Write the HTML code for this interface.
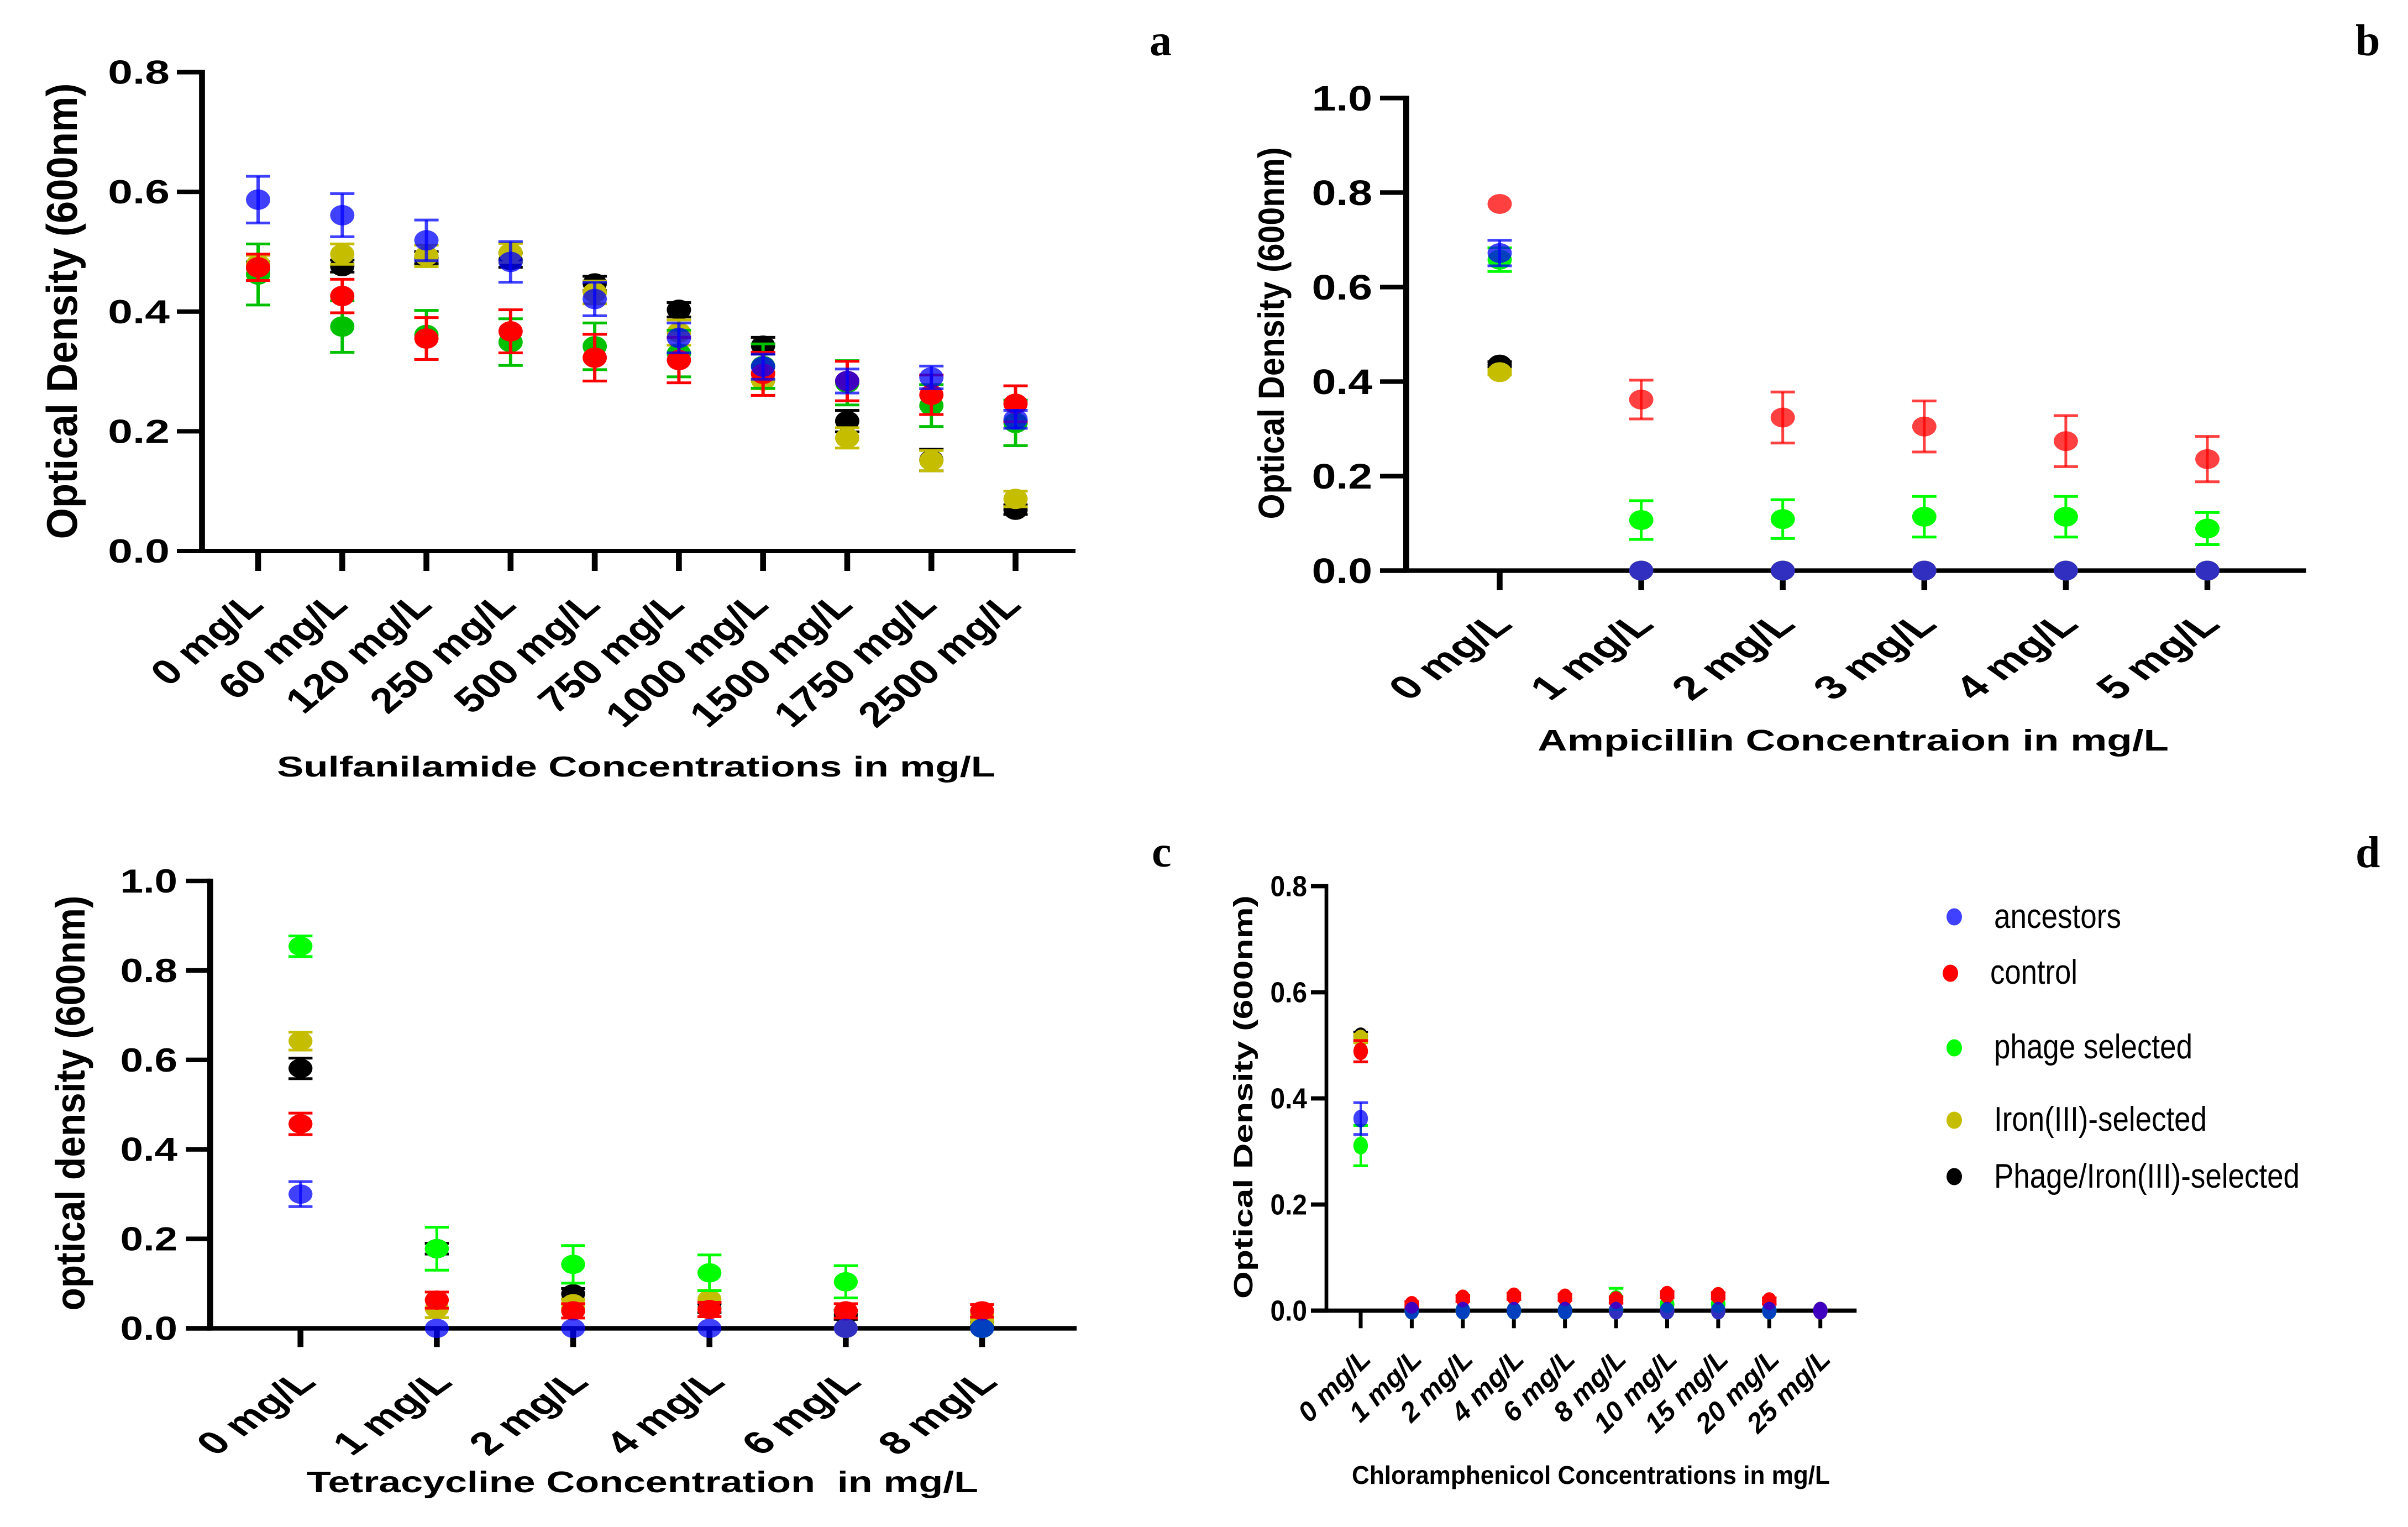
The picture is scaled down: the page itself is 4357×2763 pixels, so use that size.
<!DOCTYPE html>
<html lang="en">
<head>
<meta charset="utf-8">
<title>Optical density under antibiotic concentrations</title>
<style>
html,body{margin:0;padding:0;background:#fff;}
svg{display:block;}
text{font-family:"Liberation Sans",sans-serif;fill:#000;}
.title{font-weight:bold;}
.panel-letter{font-family:"Liberation Serif",serif;font-weight:bold;font-size:80px;}
.legend-label{font-size:62px;}
</style>
</head>
<body>
<svg id="figure" xmlns="http://www.w3.org/2000/svg" width="4357" height="2763" viewBox="0 0 4357 2763">
  <rect x="0" y="0" width="4357" height="2763" fill="#fff"/>

  <text class="panel-letter" x="2080" y="100">a</text>
  <text class="panel-letter" x="4262" y="100">b</text>
  <text class="panel-letter" x="2084" y="1568">c</text>
  <text class="panel-letter" x="4262" y="1569">d</text>

  <text class="title" font-size="78" text-anchor="middle" transform="translate(139,563) rotate(-90)" textLength="825" lengthAdjust="spacingAndGlyphs">Optical Density (600nm)</text>
  <text class="title" font-size="52" x="501" y="1405" textLength="1300" lengthAdjust="spacingAndGlyphs">Sulfanilamide Concentrations in mg/L</text>

  <text class="title" font-size="66" text-anchor="middle" transform="translate(2323,603) rotate(-90)" textLength="673" lengthAdjust="spacingAndGlyphs">Optical Density (600nm)</text>
  <text class="title" font-size="54" x="2782" y="1358" textLength="1142" lengthAdjust="spacingAndGlyphs">Ampicillin Concentraion in mg/L</text>

  <text class="title" font-size="74" text-anchor="middle" transform="translate(153,1996) rotate(-90)" textLength="751" lengthAdjust="spacingAndGlyphs">optical density (600nm)</text>
  <text class="title" font-size="54" x="555" y="2700" textLength="1215" lengthAdjust="spacingAndGlyphs" xml:space="preserve" style="white-space:pre">Tetracycline Concentration  in mg/L</text>

  <text class="title" font-size="48" text-anchor="middle" transform="translate(2266,1985) rotate(-90)" textLength="730" lengthAdjust="spacingAndGlyphs">Optical Density (600nm)</text>
  <text class="title" font-size="46" x="2446" y="2685" textLength="865" lengthAdjust="spacingAndGlyphs">Chloramphenicol Concentrations in mg/L</text>

  <g>
    <g>
      <ellipse cx="3536" cy="1659" rx="14" ry="15.5" fill="rgba(0,0,255,0.75)"/>
      <text class="legend-label" x="3608" y="1679" textLength="230" lengthAdjust="spacingAndGlyphs">ancestors</text>
    </g>
    <g>
      <ellipse cx="3529" cy="1761" rx="14" ry="15.5" fill="#ff0000"/>
      <text class="legend-label" x="3601" y="1780" textLength="158" lengthAdjust="spacingAndGlyphs">control</text>
    </g>
    <g>
      <ellipse cx="3536" cy="1896" rx="14" ry="15.5" fill="#00ff00"/>
      <text class="legend-label" x="3608" y="1915" textLength="359" lengthAdjust="spacingAndGlyphs">phage selected</text>
    </g>
    <g>
      <ellipse cx="3536" cy="2027" rx="14" ry="15.5" fill="#c4bd00"/>
      <text class="legend-label" x="3608" y="2046" textLength="385" lengthAdjust="spacingAndGlyphs">Iron(III)-selected</text>
    </g>
    <g>
      <ellipse cx="3536" cy="2129" rx="14" ry="15.5" fill="#000000"/>
      <text class="legend-label" x="3608" y="2149" textLength="553" lengthAdjust="spacingAndGlyphs">Phage/Iron(III)-selected</text>
    </g>
  </g>
</svg>

<script>
// Panel a: sulfanilamide
const aCategories = ['0 mg/L','60 mg/L','120 mg/L','250 mg/L','500 mg/L','750 mg/L','1000 mg/L','1500 mg/L','1750 mg/L','2500 mg/L'];
const aYTicks = [0, 0.2, 0.4, 0.6, 0.8];
const aAncestors = [0.587,0.561,0.519,0.483,0.421,0.356,0.308,0.284,0.290,0.220];
const aAncestorsErr = [0.039,0.036,0.034,0.034,0.028,0.025,0.021,0.020,0.019,0.015];
const aControl = [0.474,0.426,0.355,0.367,0.323,0.319,0.296,0.284,0.261,0.246];
const aControlErr = [0.022,0.028,0.035,0.036,0.039,0.038,0.036,0.033,0.033,0.030];
const aPhage = [0.462,0.375,0.361,0.349,0.342,0.330,0.309,0.281,0.243,0.214];
const aPhageErr = [0.051,0.043,0.041,0.039,0.039,0.039,0.037,0.037,0.035,0.038];
const aIron = [0.479,0.496,0.493,0.498,0.432,0.365,0.285,0.189,0.151,0.087];
const aIronErr = [0.015,0.017,0.018,0.016,0.019,0.021,0.014,0.017,0.017,0.013];
const aBlack = [0.473,0.476,0.490,0.486,0.447,0.403,0.343,0.217,0.152,0.069];
const aBlackErr = [0.010,0.010,0.010,0.012,0.012,0.012,0.014,0.018,0.018,0.008];

// Panel b: ampicillin
const bCategories = ['0 mg/L','1 mg/L','2 mg/L','3 mg/L','4 mg/L','5 mg/L'];
const bYTicks = [0, 0.2, 0.4, 0.6, 0.8, 1.0];
const bAncestors = [0.672,0,0,0,0,0];
const bAncestorsErr = [0.027,0,0,0,0,0];
const bControl = [0.776,0.362,0.324,0.305,0.274,0.236];
const bControlErr = [0,0.041,0.054,0.054,0.054,0.048];
const bPhage = [0.658,0.107,0.109,0.114,0.114,0.089];
const bPhageErr = [0.025,0.041,0.041,0.043,0.043,0.034];
const bIron = [0.420,0,0,0,0,0];
const bIronErr = [0.006,0,0,0,0,0];
const bBlack = [0.436,0,0,0,0,0];
const bBlackErr = [0.006,0,0,0,0,0];

// Panel c: tetracycline
const cCategories = ['0 mg/L','1 mg/L','2 mg/L','4 mg/L','6 mg/L','8 mg/L'];
const cYTicks = [0, 0.2, 0.4, 0.6, 0.8, 1.0];
const cAncestors = [0.300,0,0,0,0,0];
const cAncestorsErr = [0.028,0,0,0,0,0];
const cControl = [0.457,0.063,0.039,0.042,0.039,0.039];
const cControlErr = [0.024,0.018,0.016,0.016,0.016,0.014];
const cPhage = [0.854,0.178,0.143,0.124,0.104,0];
const cPhageErr = [0.023,0.048,0.042,0.040,0.036,0];
const cIron = [0.642,0.044,0.055,0.065,0,0.020];
const cIronErr = [0.020,0.020,0.010,0.020,0,0.010];
const cBlack = [0.581,0.178,0.077,0.045,0.030,0.015];
const cBlackErr = [0.023,0.012,0.012,0.010,0.010,0.010];

// Panel d: chloramphenicol
const dCategories = ['0 mg/L','1 mg/L','2 mg/L','4 mg/L','6 mg/L','8 mg/L','10 mg/L','15 mg/L','20 mg/L','25 mg/L'];
const dYTicks = [0, 0.2, 0.4, 0.6, 0.8];
const dAncestors = [0.362,0,0,0,0,0,0,0,0,0];
const dAncestorsErr = [0.030,0,0,0,0,0,0,0,0,0];
const dControl = [0.489,0.011,0.023,0.027,0.025,0.020,0.030,0.028,0.018,0];
const dControlErr = [0.020,0.006,0.006,0.006,0.006,0.006,0.006,0.006,0.006,0];
const dPhage = [0.311,0,0,0,0,0.022,0.012,0.012,0,0];
const dPhageErr = [0.038,0,0,0,0,0.020,0,0,0,0];
const dIron = [0.513,0,0,0,0,0,0,0,0,0];
const dIronErr = [0.008,0,0,0,0,0,0,0,0,0];
const dBlack = [0.517,0,0,0,0,0,0,0,0,0];
const dBlackErr = [0.008,0,0,0,0,0,0,0,0,0];

const SVGNS = 'http://www.w3.org/2000/svg';
const figure = document.getElementById('figure');

function make(tag, parent) {
  const el = document.createElementNS(SVGNS, tag);
  parent.appendChild(el);
  return el;
}

function hBar(parent, x1, x2, yc, thick, color) {
  const el = make('rect', parent);
  el.setAttribute('x', x1);
  el.setAttribute('y', yc - thick / 2);
  el.setAttribute('width', x2 - x1);
  el.setAttribute('height', thick);
  el.setAttribute('fill', color);
  return el;
}

function vBar(parent, y1, y2, xc, thick, color) {
  const el = make('rect', parent);
  el.setAttribute('x', xc - thick / 2);
  el.setAttribute('y', y1);
  el.setAttribute('width', thick);
  el.setAttribute('height', y2 - y1);
  el.setAttribute('fill', color);
  return el;
}

function drawPanel(p) {
  const panel = make('g', figure);
  
  

  const yMax = p.yTicks[p.yTicks.length - 1];
  const yScale = v => p.yZero - (v / yMax) * (p.yZero - p.yTop);
  const xScale = i => p.xFirst + i * (p.xLast - p.xFirst) / (p.categories.length - 1);

  const yAxis = vBar(panel, p.yTop - p.hThick / 2, p.yZero + p.hThick / 2, p.axisX, p.vThick, '#000');
  
  
  const xAxis = hBar(panel, p.tickLeft, p.right, p.yZero, p.hThick, '#000');
  
  

  p.yTicks.forEach(v => {
    const y = yScale(v);
    const tick = hBar(panel, p.tickLeft, p.axisX, y, p.hThick, '#000');
    
    
    const label = make('text', panel);
    
    
    label.setAttribute('text-anchor', 'end');
    label.setAttribute('font-weight', 'bold');
    label.setAttribute('font-size', p.yLabelSize);
    label.setAttribute('transform', 'translate(' + p.yLabelRight + ',' + (y + p.yLabelSize * 0.35) + ') scale(' + p.yLabelStretch + ',1)');
    label.textContent = v.toFixed(1);
  });

  p.categories.forEach((c, i) => {
    const x = xScale(i);
    const tick = vBar(panel, p.yZero, p.tickBottom, x, p.xTickThick, '#000');
    
    
    const label = make('text', panel);
    
    
    label.setAttribute('text-anchor', 'end');
    label.setAttribute('font-weight', 'bold');
    if (p.xLabelItalic) label.setAttribute('font-style', 'italic');
    label.setAttribute('font-size', p.xLabelSize);
    label.setAttribute('transform', 'translate(' + (x + p.xLabelDx) + ',' + p.xLabelY + ') scale(' + p.xLabelStretch + ',1) rotate(-45)');
    label.textContent = c;
  });

  p.series.forEach(s => {
    const group = make('g', panel);
    
    
    s.values.forEach((v, i) => {
      const x = xScale(i);
      const y = yScale(v);
      const err = s.errors[i];
      if (err > 0) {
        const yHi = yScale(v + err);
        const yLo = yScale(Math.max(0, v - err));
        const stem = vBar(group, yHi, yLo, x, p.stem, s.color);
        
        
        const capHi = hBar(group, x - p.rx, x + p.rx, yHi, 5, s.color);
        
        
        const capLo = hBar(group, x - p.rx, x + p.rx, yLo, 5, s.color);
        
        
      }
      const dot = make('ellipse', group);
      
      
      dot.setAttribute('cx', x);
      dot.setAttribute('cy', y);
      dot.setAttribute('rx', p.rx);
      dot.setAttribute('ry', p.ry);
      dot.setAttribute('fill', s.color);
    });
  });
}

const BLUE = 'rgba(0,0,255,0.75)';
const YELLOW = '#c4bd00';

drawPanel({
  name: 'panel-a-sulfanilamide-chart', categories: aCategories, yTicks: aYTicks,
  axisX: 365.5, vThick: 10.7, hThick: 8, xTickThick: 10.6, yTop: 130.6, yZero: 997, tickLeft: 320, right: 1946,
  xFirst: 467, xLast: 1837.5, tickBottom: 1033,
  yLabelRight: 307, yLabelSize: 60, yLabelStretch: 1.34,
  xLabelSize: 64, xLabelStretch: 1.2, xLabelDx: 13, xLabelY: 1098,
  rx: 22, ry: 18.5, stem: 6,
  series: [
    {name: 'phage-iron-selected-series', values: aBlack, errors: aBlackErr, color: '#000'},
    {name: 'iron-selected-series', values: aIron, errors: aIronErr, color: YELLOW},
    {name: 'phage-selected-series', values: aPhage, errors: aPhageErr, color: '#00c000'},
    {name: 'control-series', values: aControl, errors: aControlErr, color: '#ff0000'},
    {name: 'ancestors-series', values: aAncestors, errors: aAncestorsErr, color: BLUE}
  ]
});

drawPanel({
  name: 'panel-b-ampicillin-chart', categories: bCategories, yTicks: bYTicks,
  axisX: 2544.3, vThick: 10.7, hThick: 8.3, xTickThick: 10.5, yTop: 177.4, yZero: 1032.5, tickLeft: 2497, right: 4172.6,
  xFirst: 2713.5, xLast: 3994, tickBottom: 1068,
  yLabelRight: 2483, yLabelSize: 64, yLabelStretch: 1.23,
  xLabelSize: 60, xLabelStretch: 1.4, xLabelDx: 26, xLabelY: 1133,
  rx: 22, ry: 18, stem: 5,
  series: [
    {name: 'phage-iron-selected-series', values: bBlack, errors: bBlackErr, color: '#000'},
    {name: 'iron-selected-series', values: bIron, errors: bIronErr, color: YELLOW},
    {name: 'control-series', values: bControl, errors: bControlErr, color: 'rgba(255,0,0,0.75)'},
    {name: 'phage-selected-series', values: bPhage, errors: bPhageErr, color: '#00ff00'},
    {name: 'ancestors-series', values: bAncestors, errors: bAncestorsErr, color: BLUE}
  ]
});

drawPanel({
  name: 'panel-c-tetracycline-chart', categories: cCategories, yTicks: cYTicks,
  axisX: 380.3, vThick: 10.7, hThick: 8.3, xTickThick: 10.6, yTop: 1594, yZero: 2403.5, tickLeft: 336.7, right: 1948,
  xFirst: 543.7, xLast: 1777, tickBottom: 2437.3,
  yLabelRight: 321, yLabelSize: 60, yLabelStretch: 1.24,
  xLabelSize: 58, xLabelStretch: 1.4, xLabelDx: 31, xLabelY: 2504,
  rx: 21.7, ry: 17.5, stem: 5,
  series: [
    {name: 'phage-iron-selected-series', values: cBlack, errors: cBlackErr, color: '#000'},
    {name: 'iron-selected-series', values: cIron, errors: cIronErr, color: YELLOW},
    {name: 'phage-selected-series', values: cPhage, errors: cPhageErr, color: '#00ff00'},
    {name: 'control-series', values: cControl, errors: cControlErr, color: '#ff0000'},
    {name: 'ancestors-series', values: cAncestors, errors: cAncestorsErr, color: BLUE}
  ]
});

drawPanel({
  name: 'panel-d-chloramphenicol-chart', categories: dCategories, yTicks: dYTicks,
  axisX: 2400, vThick: 6.7, hThick: 7.7, xTickThick: 7, yTop: 1603.5, yZero: 2371.5, tickLeft: 2372, right: 3359.3,
  xFirst: 2462, xLast: 3293.7, tickBottom: 2403.3,
  yLabelRight: 2365, yLabelSize: 52, yLabelStretch: 0.92,
  xLabelSize: 50, xLabelStretch: 1.0, xLabelDx: 21, xLabelY: 2462, xLabelItalic: true,
  rx: 13.2, ry: 16, stem: 4,
  series: [
    {name: 'phage-iron-selected-series', values: dBlack, errors: dBlackErr, color: '#000'},
    {name: 'iron-selected-series', values: dIron, errors: dIronErr, color: YELLOW},
    {name: 'phage-selected-series', values: dPhage, errors: dPhageErr, color: '#00ff00'},
    {name: 'control-series', values: dControl, errors: dControlErr, color: '#ff0000'},
    {name: 'ancestors-series', values: dAncestors, errors: dAncestorsErr, color: BLUE}
  ]
});
</script>
</body>
</html>
